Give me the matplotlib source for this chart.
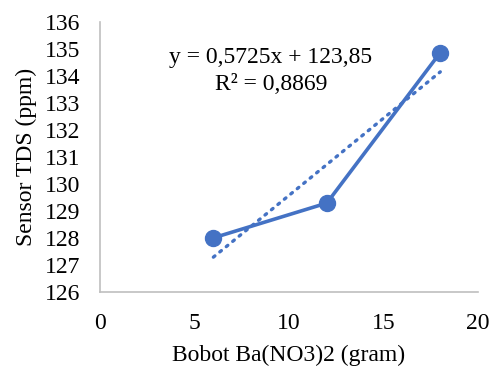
import matplotlib.pyplot as plt
import numpy as np

# data
bobot = [6, 12, 18]
tds = [128.0, 129.29, 134.87]
slope = 0.5725
intercept = 123.85
x_ticks = [0, 5, 10, 15, 20]
y_ticks = list(range(126, 137))

plt.rcParams['font.family'] = ['Liberation Serif', 'DejaVu Serif']
blue = '#4472C4'
fs = 17

fig = plt.figure(figsize=(4.97, 3.68), dpi=100)
ax = fig.add_axes([0.201, 0.207, 0.761, 0.733])

ax.plot(bobot, tds, color=blue, lw=2.6, marker='o', ms=11.5, zorder=3)

tx = np.array([bobot[0], bobot[-1]])
ax.plot(tx, slope * tx + intercept, color=blue, lw=2.4,
        linestyle=(0, (0.6, 1.9)), dash_capstyle='round', zorder=2)

ax.text(9.05, 134.67, 'y = 0,5725x + 123,85', ha='center', va='center', fontsize=fs)
ax.text(9.05, 133.67, 'R² = 0,8869', ha='center', va='center', fontsize=fs)

ax.set_xlim(0, 20)
ax.set_ylim(126, 136)
ax.set_xticks(x_ticks)
ax.set_yticks(y_ticks)
ax.tick_params(length=0, labelsize=fs)
ax.tick_params(axis='x', pad=15)
ax.tick_params(axis='y', pad=14)
for s in ['top', 'right']:
    ax.spines[s].set_visible(False)
for s in ['left', 'bottom']:
    ax.spines[s].set_color('#BFBFBF')
    ax.spines[s].set_linewidth(1.2)

ax.set_xlabel('Bobot Ba(NO3)2 (gram)', fontsize=fs, labelpad=8)
ax.set_ylabel('Sensor TDS (ppm)', fontsize=fs, labelpad=6)

fig.savefig('out.png', dpi=100)
